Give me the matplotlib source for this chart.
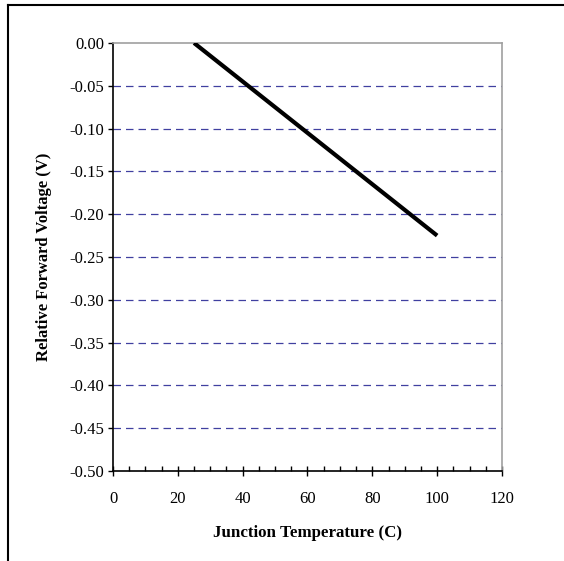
import matplotlib
matplotlib.use('Agg')
import matplotlib.pyplot as plt
from matplotlib.lines import Line2D
from matplotlib.ticker import MultipleLocator

# data
temperature = [25, 100]
forward_voltage = [0.0, -0.225]
x_ticks = [0, 20, 40, 60, 80, 100, 120]
y_ticks = [0.00, -0.05, -0.10, -0.15, -0.20, -0.25, -0.30, -0.35, -0.40, -0.45, -0.50]

plt.rcParams['font.family'] = ['Liberation Serif', 'DejaVu Serif']

fig = plt.figure(figsize=(5.64, 5.61), dpi=100)
ax = fig.add_axes([0.2004, 0.1604, 0.6896, 0.763])

# outer frame (right and bottom edges cut off in the reference)
fig.add_artist(Line2D([8 / 564, 1.0], [1 - 5 / 561, 1 - 5 / 561], color='black', lw=1.5))
fig.add_artist(Line2D([8 / 564, 8 / 564], [0.0, 1 - 5 / 561], color='black', lw=1.5))

for y in y_ticks[1:-1]:
    ax.axhline(y, color='#4040a0', lw=0.9, dashes=(6, 4), zorder=1)

ax.plot(temperature, forward_voltage, color='black', lw=3, solid_capstyle='butt', zorder=3)

ax.set_xlim(0, 120)
ax.set_ylim(-0.50, 0.00)
ax.set_xticks(x_ticks)
ax.set_yticks(y_ticks)
ax.set_yticklabels(['%.2f' % v for v in y_ticks])
ax.xaxis.set_minor_locator(MultipleLocator(5))

ax.tick_params(axis='x', which='major', direction='inout', length=7, width=1, labelsize=12, pad=11)
ax.tick_params(axis='x', which='minor', direction='in', length=3.5, width=1)
ax.tick_params(axis='y', which='major', direction='out', length=3.5, width=1, labelsize=12, pad=3)

for side in ['left', 'bottom']:
    ax.spines[side].set_color('black')
    ax.spines[side].set_linewidth(1.2)
for side in ['top', 'right']:
    ax.spines[side].set_color('#a0a0a0')
    ax.spines[side].set_linewidth(1.2)

ax.set_xlabel('Junction Temperature (C)', fontweight='bold', fontsize=12.2, labelpad=13)
ax.set_ylabel('Relative Forward Voltage (V)', fontweight='bold', fontsize=12, labelpad=12)

fig.savefig('out.png', dpi=100)
